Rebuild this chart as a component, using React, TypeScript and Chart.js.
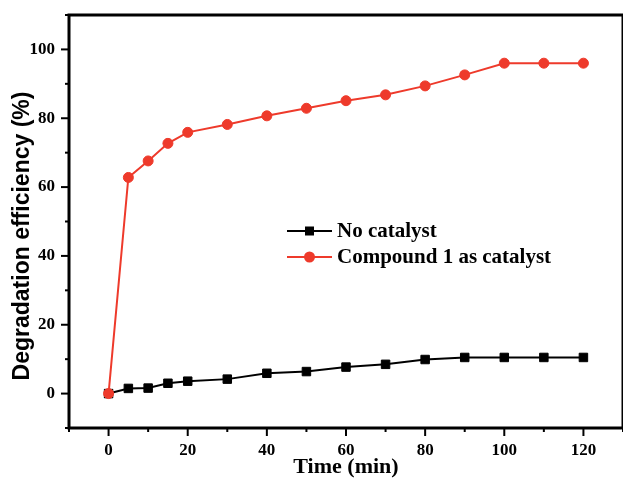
import React, { useEffect, useRef } from 'react';
import { Chart, registerables } from 'chart.js';

Chart.register(...registerables);

const times = [0, 5, 10, 15, 20, 30, 40, 50, 60, 70, 80, 90, 100, 110, 120];
const noCatalyst = [0, 1.5, 1.6, 3.0, 3.6, 4.2, 5.9, 6.4, 7.7, 8.5, 9.9, 10.5, 10.5, 10.5, 10.5];
const compound1 = [0, 62.8, 67.6, 72.7, 75.9, 78.2, 80.7, 82.9, 85.1, 86.8, 89.4, 92.6, 96.0, 96.0, 96.0];
const seriesLabels = ['No catalyst', 'Compound 1 as catalyst'];
const xTitle = 'Time (min)';
const yTitle = 'Degradation efficiency (%)';
const xRange = [-10, 130];
const yRange = [-10, 110];

const RED = '#ee3a2b';
const SERIF = "'Liberation Serif', 'Times New Roman', serif";
const SANS = "'Liberation Sans', Arial, sans-serif";

const zeroPad = (s: any) => {
  s.paddingLeft = 0;
  s.paddingRight = 0;
  s.paddingTop = 0;
  s.paddingBottom = 0;
};

const framePlugin = {
  id: 'frame',
  afterDraw(chart: any) {
    const { ctx, chartArea: a, scales } = chart;
    const xs = scales.x;
    const ys = scales.y;
    ctx.save();
    ctx.strokeStyle = '#000';
    ctx.lineWidth = 2;
    for (let v = xs.min; v <= xs.max; v += 10) {
      const px = xs.getPixelForValue(v);
      const len = v % 20 === 0 ? 8 : 4;
      ctx.beginPath();
      ctx.moveTo(px, a.bottom);
      ctx.lineTo(px, a.bottom + len);
      ctx.stroke();
    }
    for (let v = ys.min; v <= ys.max; v += 10) {
      const py = ys.getPixelForValue(v);
      const len = v % 20 === 0 ? 8 : 4;
      ctx.beginPath();
      ctx.moveTo(a.left, py);
      ctx.lineTo(a.left - len, py);
      ctx.stroke();
    }
    ctx.lineWidth = 3;
    ctx.strokeRect(a.left, a.top, a.right - a.left, a.bottom - a.top);

    ctx.fillStyle = '#000';
    ctx.textAlign = 'center';
    ctx.textBaseline = 'middle';
    ctx.font = `bold 22px ${SERIF}`;
    ctx.fillText(xTitle, 346, 467);
    ctx.save();
    ctx.translate(23, 236);
    ctx.rotate(-Math.PI / 2);
    ctx.font = `bold 23px ${SANS}`;
    ctx.fillText(yTitle, 0, 0);
    ctx.restore();

    const rows = chart.data.datasets;
    const order = [1, 0];
    ctx.font = `bold 21px ${SERIF}`;
    ctx.textAlign = 'left';
    order.forEach((di: number, i: number) => {
      const ds = rows[di];
      const y = 231 + i * 26;
      const x0 = 287;
      const x1 = 332;
      ctx.strokeStyle = ds.borderColor;
      ctx.lineWidth = 2;
      ctx.beginPath();
      ctx.moveTo(x0, y);
      ctx.lineTo(x1, y);
      ctx.stroke();
      ctx.fillStyle = ds.pointBackgroundColor;
      const cx = (x0 + x1) / 2;
      if (ds.pointStyle === 'rect') {
        ctx.fillRect(cx - 4.5, y - 4.5, 9, 9);
      } else {
        ctx.beginPath();
        ctx.arc(cx, y, 5.5, 0, Math.PI * 2);
        ctx.fill();
      }
      ctx.fillStyle = '#000';
      ctx.fillText(ds.label, 337, y + 1);
    });
    ctx.restore();
  },
};

export default function App() {
  const ref = useRef<HTMLCanvasElement>(null);
  useEffect(() => {
    if (!ref.current) return;
    const chart = new Chart(ref.current, {
      type: 'line',
      data: {
        datasets: [
          {
            label: seriesLabels[1],
            data: times.map((t, i) => ({ x: t, y: compound1[i] })),
            borderColor: RED,
            backgroundColor: RED,
            pointBackgroundColor: RED,
            pointBorderColor: RED,
            pointStyle: 'circle',
            pointRadius: 5,
            pointBorderWidth: 1,
            borderWidth: 2,
            tension: 0,
            order: 0,
          },
          {
            label: seriesLabels[0],
            data: times.map((t, i) => ({ x: t, y: noCatalyst[i] })),
            borderColor: '#000',
            backgroundColor: '#000',
            pointBackgroundColor: '#000',
            pointBorderColor: '#000',
            pointStyle: 'rect',
            pointRadius: 6,
            pointBorderWidth: 1,
            borderWidth: 2,
            tension: 0,
            order: 1,
          },
        ],
      },
      options: {
        responsive: false,
        animation: false,
        layout: { autoPadding: false, padding: { top: 15, right: -2, left: 0, bottom: 0 } },
        plugins: { legend: { display: false }, tooltip: { enabled: false } },
        scales: {
          x: {
            type: 'linear',
            min: xRange[0],
            max: xRange[1],
            grid: { display: false, drawTicks: false },
            border: { display: false },
            afterFit: (s: any) => { s.height = 51; zeroPad(s); },
            ticks: {
              stepSize: 10,
              autoSkip: false,
              maxRotation: 0,
              padding: 12,
              color: '#000',
              font: { family: SERIF, weight: 'bold', size: 17 },
              callback: (v: any) => (v % 20 === 0 && v >= 0 && v <= 120 ? String(v) : ''),
            },
          },
          y: {
            type: 'linear',
            min: yRange[0],
            max: yRange[1],
            grid: { display: false, drawTicks: false },
            border: { display: false },
            afterFit: (s: any) => { s.width = 69; zeroPad(s); },
            ticks: {
              stepSize: 10,
              autoSkip: false,
              padding: 14,
              color: '#000',
              font: { family: SERIF, weight: 'bold', size: 17 },
              callback: (v: any) => (v % 20 === 0 && v >= 0 && v <= 100 ? String(v) : ''),
            },
          },
        },
      },
      plugins: [framePlugin],
    } as any);
    return () => chart.destroy();
  }, []);
  return (
    <div style={{ position: 'absolute', left: 0, top: 0, width: 623, height: 479 }}>
      <canvas ref={ref} width={623} height={479} />
    </div>
  );
}
